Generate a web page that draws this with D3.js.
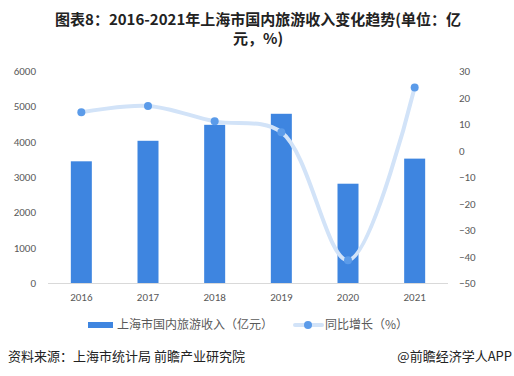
<!DOCTYPE html>
<html><head><meta charset="utf-8">
<script src="https://cdn.jsdelivr.net/npm/d3@7"></script>
<style>body{margin:0;background:#fff;}svg{display:block;font-family:"Microsoft YaHei","Noto Sans CJK SC",sans-serif;}</style>
</head><body><svg id="c" width="514" height="376"></svg>
<script>
const years = ["2016","2017","2018","2019","2020","2021"];
const revenue = [3444, 4025, 4477, 4789, 2810, 3520];
const growth = [14.4, 16.8, 11.0, 6.9, -41.4, 23.8];
const leftTicks = [0,1000,2000,3000,4000,5000,6000];
const rightTicks = [-50,-40,-30,-20,-10,0,10,20,30];

const svg = d3.select("#c");
const x = d3.scaleBand().domain(years).range([48, 448]).paddingInner(0.685).paddingOuter(0.3425);
const yL = d3.scaleLinear().domain([0,6000]).range([283,71]);
const yR = d3.scaleLinear().domain([-50,30]).range([283,71]);

// title
const title = svg.append("g").attr("font-weight","bold").attr("font-size",15).attr("fill","#222").attr("text-anchor","middle");
title.append("text").attr("x",258).attr("y",25).text("图表8：2016-2021年上海市国内旅游收入变化趋势(单位：亿");
title.append("text").attr("x",258).attr("y",44).text("元，%)");

// left axis
const axL = svg.append("g").attr("transform","translate(36,0)")
  .call(d3.axisLeft(yL).tickValues(leftTicks).tickSize(0).tickPadding(0).tickFormat(d3.format("d")));
axL.select(".domain").remove();
axL.selectAll("text").attr("fill","#595959").attr("font-size",11).attr("font-family","Calibri,'Liberation Sans',sans-serif");

// right axis
const axR = svg.append("g").attr("transform","translate(459,0)")
  .call(d3.axisRight(yR).tickValues(rightTicks).tickSize(0).tickPadding(0));
axR.select(".domain").remove();
axR.selectAll("text").attr("fill","#595959").attr("font-size",11).attr("font-family","Calibri,'Liberation Sans',sans-serif");

// bars
svg.append("g").selectAll("rect").data(years).join("rect")
  .attr("x",d=>x(d)).attr("width",x.bandwidth())
  .attr("y",(d,i)=>yL(revenue[i])).attr("height",(d,i)=>yL(0)-yL(revenue[i]))
  .attr("fill","#3e85e0");

// baseline
svg.append("line").attr("x1",48).attr("x2",448).attr("y1",283.5).attr("y2",283.5).attr("stroke","#d9d9d9").attr("stroke-width",1);

// x axis labels
const axB = svg.append("g").attr("transform","translate(0,284)")
  .call(d3.axisBottom(x).tickSize(0).tickPadding(9));
axB.select(".domain").remove();
axB.selectAll("text").attr("fill","#595959").attr("font-size",11).attr("font-family","Calibri,'Liberation Sans',sans-serif");

// line
const pts = years.map((d,i)=>[x(d)+x.bandwidth()/2, yR(growth[i])]);
svg.append("path").attr("d", d3.line().curve(d3.curveCatmullRom.alpha(0.5))(pts))
  .attr("fill","none").attr("stroke","#d2e3f8").attr("stroke-width",4).attr("stroke-linecap","round");
svg.append("g").selectAll("circle").data(pts).join("circle")
  .attr("cx",d=>d[0]).attr("cy",d=>d[1]).attr("r",4).attr("fill","#5b9be9");

// legend
const lg = svg.append("g").attr("font-size",12).attr("fill","#595959");
lg.append("rect").attr("x",88).attr("y",322).attr("width",25).attr("height",6).attr("fill","#3e85e0");
lg.append("text").attr("x",117).attr("y",329).text("上海市国内旅游收入（亿元）");
lg.append("line").attr("x1",295).attr("x2",322).attr("y1",325).attr("y2",325).attr("stroke","#d2e3f8").attr("stroke-width",4).attr("stroke-linecap","round");
lg.append("circle").attr("cx",308).attr("cy",325).attr("r",4).attr("fill","#5b9be9");
lg.append("text").attr("x",325).attr("y",329).text("同比增长（%）");

// source
const src = svg.append("g").attr("font-size",13).attr("fill","#222");
src.append("text").attr("x",8).attr("y",361).text("资料来源：上海市统计局 前瞻产业研究院");
src.append("text").attr("x",512).attr("y",361).attr("text-anchor","end").text("@前瞻经济学人APP");
</script></body></html>
